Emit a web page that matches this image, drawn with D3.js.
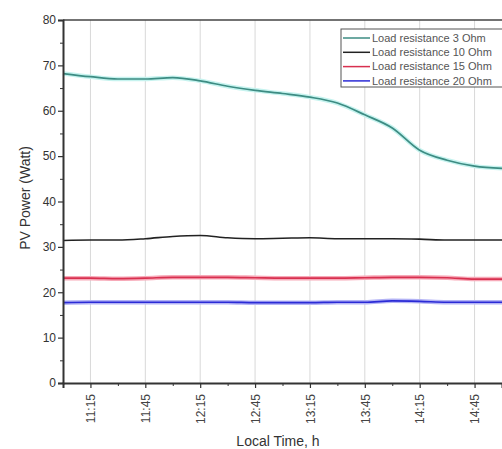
<!DOCTYPE html>
<html>
<head>
<meta charset="utf-8">
<script src="https://cdn.jsdelivr.net/npm/d3@7"></script>
<style>
  body { margin: 0; background: #fff; overflow: hidden; }
  text { font-family: "Liberation Sans", Arial, sans-serif; }
</style>
</head>
<body>
<div id="chart"></div>
<script>
  const parseTime = d3.timeParse("%H:%M");

  // sample times, every 15 minutes
  const times = ["11:00","11:15","11:30","11:45","12:00","12:15","12:30","12:45","13:00",
                 "13:15","13:30","13:45","14:00","14:15","14:30","14:45","15:00"];
  const load3 = [68.2, 67.5, 67.0, 67.0, 67.3, 66.6, 65.4, 64.5, 63.8, 63.0, 61.7, 59.1, 56.2, 51.3, 49.1, 47.8, 47.3];
  const load10 = [31.4, 31.5, 31.5, 31.8, 32.3, 32.5, 32.0, 31.8, 31.9, 32.0, 31.8, 31.8, 31.8, 31.7, 31.5, 31.5, 31.5];
  const load15 = [23.1, 23.1, 23.0, 23.1, 23.3, 23.3, 23.3, 23.2, 23.1, 23.1, 23.1, 23.2, 23.3, 23.3, 23.2, 22.9, 22.9];
  const load20 = [17.7, 17.8, 17.8, 17.8, 17.8, 17.8, 17.8, 17.7, 17.7, 17.7, 17.8, 17.8, 18.1, 18.0, 17.8, 17.8, 17.8];
  const seriesNames = ["Load resistance 3 Ohm", "Load resistance 10 Ohm", "Load resistance 15 Ohm", "Load resistance 20 Ohm"];
  const xTickLabels = ["11:15","11:45","12:15","12:45","13:15","13:45","14:15","14:45"];
  const xMinorTicks = ["11:30","12:00","12:30","13:00","13:30","14:00","14:30"];
  const yTicks = [0, 10, 20, 30, 40, 50, 60, 70, 80];

  const colors = ["#3d8c83", "#222222", "#d8304f", "#2b2bd6"],
    glows = ["#c6f3ef", null, "#f7a9b8", "#b3b3f5"];

  const margin = {top: 20, right: 0, bottom: 66, left: 63},
    width = 502 - margin.left - margin.right,
    height = 449 - margin.top - margin.bottom;

  const svg = d3.select("#chart").append("svg")
      .attr("width", 502)
      .attr("height", 449)
      .append("g")
      .attr("transform", "translate(" + margin.left + "," + margin.top + ")");

  const x = d3.scaleTime()
      .domain([parseTime("11:00"), parseTime("15:00")])
      .range([0, width]);

  const y = d3.scaleLinear()
      .domain([0, 80])
      .range([height, 0]);

  //vertical grid lines at labelled times
  svg.selectAll(".grid")
    .data(xTickLabels.map(parseTime))
    .enter().append("line")
      .attr("x1", d => x(d)).attr("x2", d => x(d))
      .attr("y1", 0).attr("y2", height)
      .attr("stroke", "#d8d8d8")
      .attr("stroke-width", 1);

  //series lines
  const data = [load3, load10, load15, load20].map(vals => vals.map((v, i) => ({t: parseTime(times[i]), v: v})));

  const line = d3.line()
      .x(d => x(d.t))
      .y(d => y(d.v))
      .curve(d3.curveMonotoneX);

  data.forEach(function(s, i){
    if (glows[i]) {
      svg.append("path")
        .datum(s)
        .attr("d", line)
        .attr("fill", "none")
        .attr("stroke", glows[i])
        .attr("stroke-width", 4.5);
    }
    svg.append("path")
      .datum(s)
      .attr("d", line)
      .attr("fill", "none")
      .attr("stroke", colors[i])
      .attr("stroke-width", i == 1 ? 1.6 : 1.7);
  });

  //frame top
  svg.append("line")
    .attr("x1", 0).attr("x2", width)
    .attr("y1", 0).attr("y2", 0)
    .attr("stroke", "#444").attr("stroke-width", 1.5);

  //y axis
  const yAxis = svg.append("g")
      .call(d3.axisLeft(y).tickValues(yTicks).tickSize(5).tickPadding(2));
  yAxis.select(".domain").attr("stroke", "#333").attr("stroke-width", 2);
  yAxis.selectAll(".tick line").attr("stroke", "#333").attr("stroke-width", 1.2);
  yAxis.selectAll(".tick text").attr("font-size", 12).attr("fill", "#333");

  const yMinor = svg.append("g")
      .call(d3.axisLeft(y).tickValues(d3.range(5, 80, 10)).tickSize(3).tickFormat(""));
  yMinor.select(".domain").remove();
  yMinor.selectAll(".tick line").attr("stroke", "#333");

  //x axis
  const xAxis = svg.append("g")
      .attr("transform", "translate(0," + height + ")")
      .call(d3.axisBottom(x).tickValues(xTickLabels.map(parseTime)).tickSize(5).tickFormat(d3.timeFormat("%H:%M")));
  xAxis.select(".domain").attr("stroke", "#333").attr("stroke-width", 2);
  xAxis.selectAll(".tick line").attr("stroke", "#333").attr("stroke-width", 1.2);
  xAxis.selectAll(".tick text")
      .attr("font-size", 12)
      .attr("fill", "#444")
      .attr("text-anchor", "end")
      .attr("transform", "rotate(-90)")
      .attr("x", -11)
      .attr("y", 0)
      .attr("dy", "0.35em");

  const xMinor = svg.append("g")
      .attr("transform", "translate(0," + height + ")")
      .call(d3.axisBottom(x).tickValues(xMinorTicks.map(parseTime)).tickSize(3).tickFormat(""));
  xMinor.select(".domain").remove();
  xMinor.selectAll(".tick line").attr("stroke", "#333");

  //axis titles
  svg.append("text")
    .attr("transform", "translate(-33,178) rotate(-90)")
    .attr("text-anchor", "middle")
    .attr("font-size", 14)
    .attr("fill", "#333")
    .text("PV Power (Watt)");

  svg.append("text")
    .attr("x", 215)
    .attr("y", height + 63)
    .attr("text-anchor", "middle")
    .attr("font-size", 14)
    .attr("fill", "#333")
    .text("Local Time, h");

  //legend
  const legend = svg.append("g")
      .attr("transform", "translate(278,9)");

  legend.append("rect")
    .attr("width", 170)
    .attr("height", 58)
    .attr("fill", "#fff")
    .attr("stroke", "#555")
    .attr("stroke-width", 1);

  const items = legend.selectAll(".legend")
    .data(seriesNames)
    .enter().append("g")
      .attr("transform", (d, i) => "translate(0," + (9 + i * 14.3) + ")");

  items.append("line")
    .attr("x1", 2).attr("x2", 29)
    .attr("stroke", (d, i) => colors[i])
    .attr("stroke-width", 1.5);

  items.append("text")
    .attr("x", 31)
    .attr("dy", "0.35em")
    .attr("font-size", 11)
    .attr("fill", "#555")
    .text(d => d);
</script>
</body>
</html>
